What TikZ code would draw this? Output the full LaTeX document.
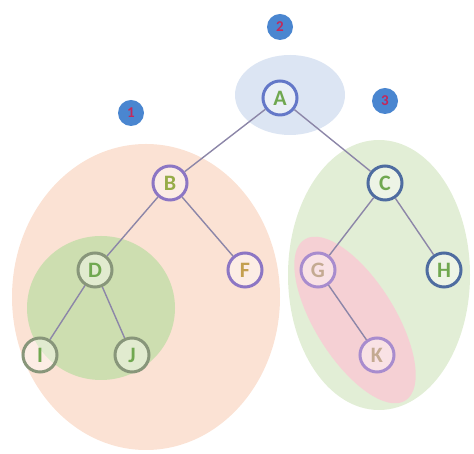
\documentclass[tikz,border=0pt]{standalone}
\usepackage{fontspec}
\setmainfont{Carlito}
\usepackage{tikz}
\usetikzlibrary{calc,positioning}

\begin{document}
\begin{tikzpicture}[x=1pt,y=1pt]
            % Colors
            \definecolor{peachfill}{RGB}{251,226,212}
            \definecolor{greenfill}{RGB}{226,238,214}
            \definecolor{olivefill}{RGB}{205,222,176}
            \definecolor{pinkfill}{RGB}{245,208,212}
            \definecolor{bluefill}{RGB}{220,229,243}
            \definecolor{badgeblue}{RGB}{74,134,208}
            \definecolor{badgered}{RGB}{196,40,90}
            \definecolor{edgegray}{RGB}{140,134,168}
            \definecolor{ringblue}{RGB}{100,120,200}
            \definecolor{ringdark}{RGB}{78,108,160}
            \definecolor{ringpurple}{RGB}{140,118,196}
            \definecolor{ringlav}{RGB}{168,140,206}
            \definecolor{ringgray}{RGB}{136,150,122}
            \definecolor{txtgreen}{RGB}{112,168,80}
            \definecolor{txtolive}{RGB}{150,172,72}
            \definecolor{txtgold}{RGB}{196,160,80}
            \definecolor{txttan}{RGB}{196,170,146}
            % Styles
            \tikzset{
              treenode/.style={circle, minimum size=34pt, inner sep=0pt, line width=3pt,
                fill=white, fill opacity=0.4, text opacity=1,
                font=\fontsize{22}{22}\selectfont\bfseries},
              badge/.style={circle, minimum size=26pt, inner sep=0pt, fill=badgeblue,
                text=badgered, font=\fontsize{15}{15}\selectfont\bfseries},
              link/.style={edgegray, line width=1.4pt}
            }
            \useasboundingbox (0,0) rectangle (474,454);
            % Groups
            \fill[peachfill] (146,157) ellipse [x radius=134, y radius=153];
            \fill[olivefill] (101,146) ellipse [x radius=74, y radius=72];
            \fill[greenfill] (379,179) ellipse [x radius=91, y radius=135];
            \fill[pinkfill, rotate around={32:(355,134)}] (355,134) ellipse [x radius=40, y radius=95];
            \fill[bluefill] (290,359) ellipse [x radius=55, y radius=40];
            % Tree nodes
            \node[treenode, draw=ringblue, text=txtgreen]    (A) at (280,356) {A};
            \node[treenode, draw=ringpurple, text=txtolive]  (B) at (170,271) {B};
            \node[treenode, draw=ringdark, text=txtgreen]    (C) at (385,271) {C};
            \node[treenode, draw=ringgray, text=txtgreen]    (D) at (95,184) {D};
            \node[treenode, draw=ringpurple, text=txtgold]   (F) at (245,184) {F};
            \node[treenode, draw=ringlav, text=txttan]       (G) at (318,184) {G};
            \node[treenode, draw=ringdark, text=txtgreen]    (H) at (444,184) {H};
            \node[treenode, draw=ringgray, text=txtgreen]    (I) at (40,99) {I};
            \node[treenode, draw=ringgray, text=txtgreen]    (J) at (132,99) {J};
            \node[treenode, draw=ringlav, text=txttan]       (K) at (377,99) {K};
            % Edges
            \draw[link] (A) -- (B);
            \draw[link] (A) -- (C);
            \draw[link] (B) -- (D);
            \draw[link] (B) -- (F);
            \draw[link] (C) -- (G);
            \draw[link] (C) -- (H);
            \draw[link] (D) -- (I);
            \draw[link] (D) -- (J);
            \draw[link] (G) -- (K);
            % Badges
            \node[badge] (one)   at (131,341) {1};
            \node[badge] (two)   at (280,427) {2};
            \node[badge] (three) at (385,353) {3};
        \end{tikzpicture}
\end{document}
